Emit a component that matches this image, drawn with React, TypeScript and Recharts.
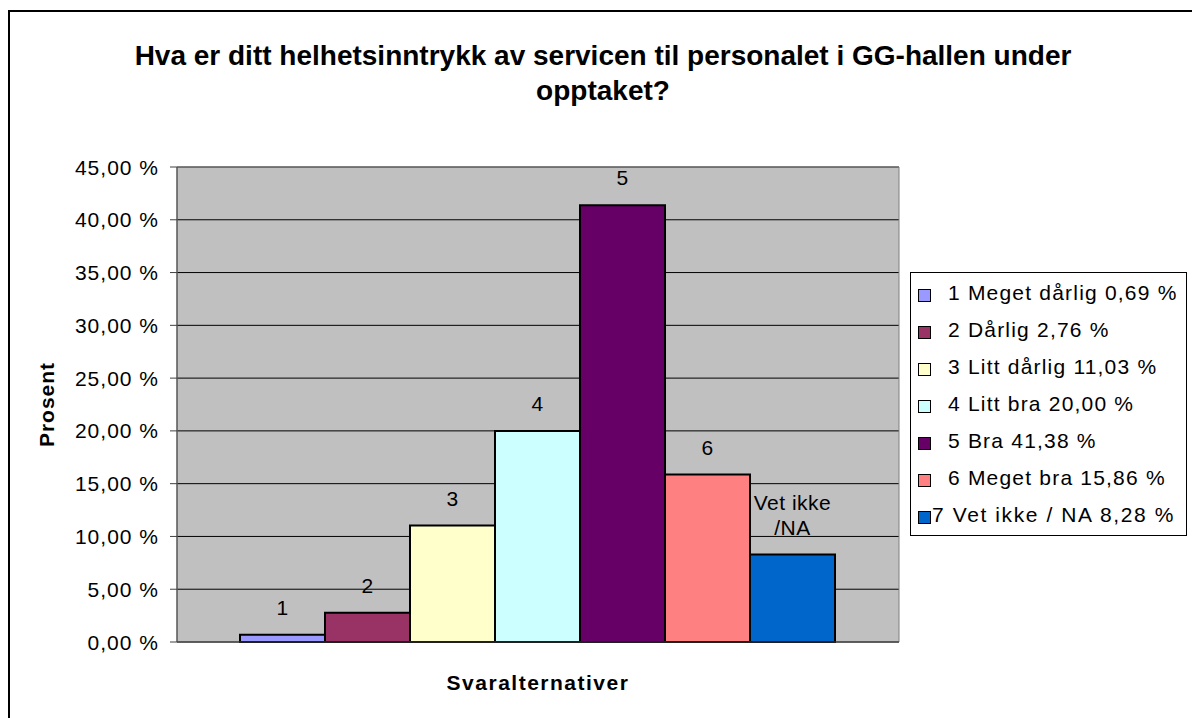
import React from 'react';
import { BarChart, Bar, XAxis, YAxis, CartesianGrid, LabelList, ReferenceArea, Label } from 'recharts';

const titleLines = ['Hva er ditt helhetsinntrykk av servicen til personalet i GG-hallen under', 'opptaket?'];
const categories = [''];
const seriesKeys = ['s1', 's2', 's3', 's4', 's5', 's6', 's7'];
const seriesNames = ['1 Meget dårlig', '2 Dårlig', '3 Litt dårlig', '4 Litt bra', '5 Bra', '6 Meget bra', '7 Vet ikke / NA'];
const values = [0.69, 2.76, 11.03, 20.0, 41.38, 15.86, 8.28];
const barLabels = ['1', '2', '3', '4', '5', '6', 'Vet ikke\n/NA'];
const colors = ['#9999FF', '#993366', '#FFFFCC', '#CCFFFF', '#660066', '#FF8080', '#0066CC'];
const yTicks = [0, 5, 10, 15, 20, 25, 30, 35, 40, 45];
const yAxisTitle = 'Prosent';
const xAxisTitle = 'Svaralternativer';

const FONT = '"Liberation Sans", Arial, sans-serif';
const fmt = (v: number) => v.toFixed(2).replace('.', ',') + ' %';

const data = categories.map((c) => {
  const row: Record<string, any> = { name: c };
  seriesKeys.forEach((k, i) => (row[k] = values[i]));
  return row;
});

const YTick = (props: any) => {
  const { x, y, payload } = props;
  return (
    <text x={x} y={y} dy={7.5} textAnchor="end" fontFamily={FONT} fontSize={21} letterSpacing={1} fill="#000">
      {fmt(payload.value)}
    </text>
  );
};

const makeBarLabel = (i: number) => (props: any) => {
  const { x, y, width } = props;
  const lines = barLabels[i].split('\n');
  const cx = Number(x) + Number(width) / 2;
  const base = Number(y) - 20;
  return (
    <text textAnchor="middle" fontFamily={FONT} fontSize={21} letterSpacing={0.5} fill="#000">
      {lines.map((ln, j) => (
        <tspan key={j} x={cx} y={base - (lines.length - 1 - j) * 25}>
          {ln}
        </tspan>
      ))}
    </text>
  );
};

export default function App() {
  return (
    <div
      style={{
        position: 'absolute',
        left: 8,
        top: 10,
        width: 1184,
        height: 708,
        borderLeft: '2px solid #000',
        borderTop: '2px solid #000',
        boxSizing: 'border-box',
        background: '#fff',
        fontFamily: FONT,
      }}
    >
      <style>{'html,body{overflow:hidden}'}</style>
      <div
        style={{
          position: 'absolute',
          left: 93,
          top: 26,
          width: 1000,
          textAlign: 'center',
          fontWeight: 'bold',
          fontSize: 28,
          lineHeight: '35px',
          color: '#000',
          whiteSpace: 'nowrap',
        }}
      >
        {titleLines.map((t, i) => (
          <div key={i}>{t}</div>
        ))}
      </div>
      <div style={{ position: 'absolute', left: 0, top: 0 }}>
        <BarChart
          width={1182}
          height={706}
          data={data}
          margin={{ top: 155, right: 293, bottom: 46, left: 97 }}
          barCategoryGap={63}
          barGap={0}
        >
          <CartesianGrid vertical={false} stroke="#000" fill="#C0C0C0" fillOpacity={1} />
          <ReferenceArea y1={0} y2={45} fill="none" stroke="#808080" strokeWidth={1} ifOverflow="visible" />
          <XAxis dataKey="name" tick={false} tickLine={false} axisLine={{ stroke: '#404040', strokeWidth: 1 }} height={30}>
            <Label
              content={(p: any) => {
                const vb = p.viewBox || { x: 167, y: 630, width: 722 };
                return (
                  <text x={vb.x + vb.width / 2} y={vb.y + 48} textAnchor="middle" fontFamily={FONT} fontSize={21} fontWeight="bold" letterSpacing={1.5} fill="#000">
                    {xAxisTitle}
                  </text>
                );
              }}
            />
          </XAxis>
          <YAxis
            domain={[0, 45]}
            ticks={yTicks}
            width={70}
            tick={<YTick />}
            tickSize={7}
            tickMargin={11}
            tickLine={{ stroke: '#404040' }}
            axisLine={{ stroke: '#404040', strokeWidth: 1 }}
            interval={0}
          >
            <Label
              content={(p: any) => {
                const vb = p.viewBox || { x: 97, y: 155, height: 475 };
                const cx = vb.x - 60.5;
                const cy = vb.y + vb.height / 2;
                return (
                  <text x={cx} y={cy} dy={7.5} transform={`rotate(-90, ${cx}, ${cy})`} textAnchor="middle" fontFamily={FONT} fontSize={21} fontWeight="bold" letterSpacing={1} fill="#000">
                    {yAxisTitle}
                  </text>
                );
              }}
            />
          </YAxis>
          {seriesKeys.map((k, i) => (
            <Bar key={k} dataKey={k} name={seriesNames[i]} fill={colors[i]} stroke="#000" strokeWidth={2} isAnimationActive={false}>
              <LabelList dataKey={k} content={makeBarLabel(i)} />
            </Bar>
          ))}
        </BarChart>
      </div>
      <div
        style={{
          position: 'absolute',
          left: 900,
          top: 260,
          width: 277,
          height: 264,
          border: '1px solid #000',
          boxSizing: 'border-box',
          background: '#fff',
        }}
      >
        {seriesNames.map((n, i) => {
          const last = i === seriesNames.length - 1;
          return (
            <div
              key={n}
              style={{
                position: 'absolute',
                left: 7,
                top: 20 + 37 * i - 11,
                height: 22,
                display: 'flex',
                alignItems: 'center',
                whiteSpace: 'nowrap',
              }}
            >
              <span
                style={{
                  display: 'inline-block',
                  width: 11,
                  height: 11,
                  background: colors[i],
                  border: '1px solid #000',
                  marginRight: last ? 1 : 17,
                  marginTop: 4,
                }}
              />
              <span style={{ fontSize: 21, letterSpacing: last ? 1.6 : 1.2, color: '#000' }}>
                {n} {fmt(values[i])}
              </span>
            </div>
          );
        })}
      </div>
    </div>
  );
}
